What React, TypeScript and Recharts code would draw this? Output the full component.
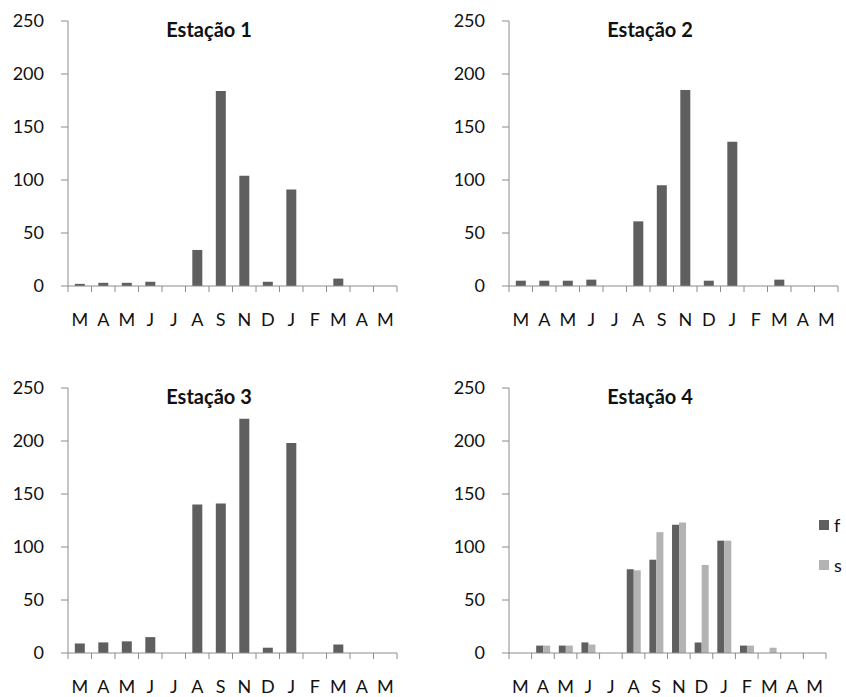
import React from "react";
import { BarChart, Bar, XAxis, YAxis, Legend } from "recharts";

const months = ["M", "A", "M", "J", "J", "A", "S", "N", "D", "J", "F", "M", "A", "M"];

const est1 = [2, 3, 3, 4, 0, 34, 184, 104, 4, 91, 0, 7, 0, 0];
const est2 = [5, 5, 5, 6, 0, 61, 95, 185, 5, 136, 0, 6, 0, 0];
const est3 = [9, 10, 11, 15, 0, 140, 141, 221, 5, 198, 0, 8, 0, 0];
const est4f = [0, 7, 7, 10, 0, 79, 88, 121, 10, 106, 7, 0, 0, 0];
const est4s = [0, 7, 7, 8, 0, 78, 114, 123, 83, 106, 7, 5, 0, 0];

const yTicks = [0, 50, 100, 150, 200, 250];

const DARK = "#5f5f5f";
const LIGHT = "#b3b3b3";
const AXIS = "#8c8c8c";
const FONT = "Lato, 'Open Sans', sans-serif";

function makeRows(a: number[], b?: number[]) {
  return months.map((m, i) => ({ m: m + i, label: m, f: a[i], s: b ? b[i] : 0 }));
}

// x ticks sit between categories, like the original spreadsheet chart
function BetweenTick(props: any) {
  const { x, y, payload, index, bw, count } = props;
  const y0 = y - 27;
  return (
    <g>
      <line x1={x - bw / 2} x2={x - bw / 2} y1={y0} y2={y0 + 6} stroke={AXIS} />
      {index === count - 1 && (
        <line x1={x + bw / 2} x2={x + bw / 2} y1={y0} y2={y0 + 6} stroke={AXIS} />
      )}
      <text x={x} y={y} dy="0.71em" textAnchor="middle" fill="#111" fontSize={18}>
        {String(payload.value).slice(0, 1)}
      </text>
    </g>
  );
}

function LegendBox(props: any) {
  const items = props.payload || [];
  return (
    <div style={{ fontFamily: FONT, fontSize: 18, color: "#111" }}>
      {items.map((it: any) => (
        <div key={it.value} style={{ height: 20, marginBottom: 20, display: "flex", alignItems: "center" }}>
          <span style={{ width: 10, height: 10, background: it.color, marginRight: 5, display: "inline-block" }} />
          <span>{it.value}</span>
        </div>
      ))}
    </div>
  );
}

interface PanelProps {
  title: string;
  left: number;
  top: number;
  width: number;
  plotRight: number;
  f: number[];
  s?: number[];
}

function Panel({ title, left, top, width, plotRight, f, s }: PanelProps) {
  const data = makeRows(f, s);
  const plotW = plotRight - 68;
  const bw = plotW / months.length;
  return (
    <div style={{ position: "absolute", left, top, width, height: 345 }}>
      <BarChart
        width={width}
        height={345}
        data={data}
        margin={{ top: 21, right: width - plotRight, left: 0, bottom: 0 }}
        barCategoryGap={s ? "20%" : "29%"}
        barGap={0}
        style={{ fontFamily: FONT }}
      >
        <XAxis
          dataKey="m"
          height={59}
          tickLine={false}
          tickSize={0}
          tickMargin={27}
          stroke={AXIS}
          interval={0}
          tick={(p: any) => <BetweenTick {...p} bw={bw} count={months.length} />}
        />
        <YAxis
          width={68}
          domain={[0, 250]}
          ticks={yTicks}
          interval={0}
          stroke={AXIS}
          tickSize={7}
          tickMargin={17}
          tick={{ fill: "#111", fontSize: 18 }}
        />
        <Bar dataKey="f" name="f" fill={DARK} isAnimationActive={false} />
        {s && <Bar dataKey="s" name="s" fill={LIGHT} isAnimationActive={false} />}
        {s && (
          <Legend
            layout="vertical"
            align="center"
            verticalAlign="middle"
            wrapperStyle={{ left: 378, top: 148, width: 30 }}
            content={(p: any) => <LegendBox {...p} />}
          />
        )}
      </BarChart>
      <div
        style={{
          position: "absolute",
          left: 0,
          width: 418,
          top: 19,
          textAlign: "center",
          fontFamily: FONT,
          fontWeight: 700,
          fontSize: 20,
          lineHeight: "20px",
          color: "#111",
        }}
      >
        {title}
      </div>
    </div>
  );
}

export default function App() {
  return (
    <div style={{ position: "absolute", left: 0, top: 0, width: 846, height: 697, overflow: "hidden", background: "#fff" }}>
      <Panel title="Estação 1" left={0} top={0} width={420} plotRight={397} f={est1} />
      <Panel title="Estação 2" left={441} top={0} width={405} plotRight={397} f={est2} />
      <Panel title="Estação 3" left={0} top={367} width={420} plotRight={397} f={est3} />
      <Panel title="Estação 4" left={441} top={367} width={405} plotRight={385} f={est4f} s={est4s} />
    </div>
  );
}
